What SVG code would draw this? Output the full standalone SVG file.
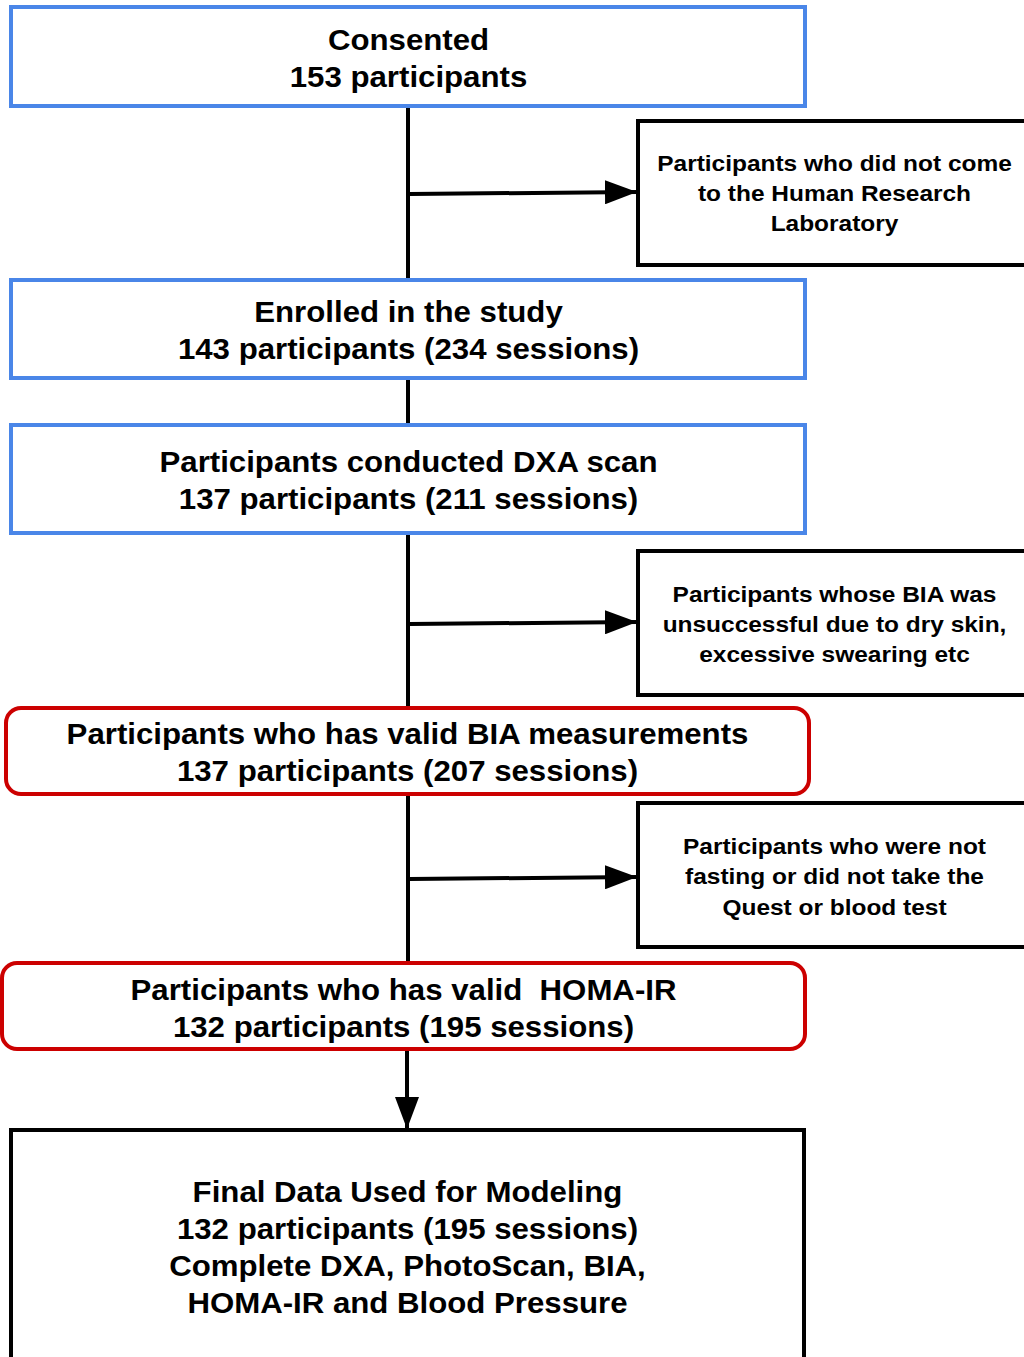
<svg xmlns="http://www.w3.org/2000/svg" width="1024" height="1357" viewBox="0 0 1024 1357">
<defs>
<style>
.blue{fill:#fff;stroke:#4a86e8;stroke-width:4}
.red{fill:#fff;stroke:#cc0000;stroke-width:4}
.blk{fill:#fff;stroke:#000;stroke-width:4}
.t{font-family:"Liberation Sans",Arial,sans-serif;font-weight:bold;font-size:29px;fill:#000;text-anchor:middle}
.s{font-family:"Liberation Sans",Arial,sans-serif;font-weight:bold;font-size:22px;fill:#000;text-anchor:middle}
.ln{stroke:#000;stroke-width:4;fill:none}
</style>
<marker id="ah" markerWidth="8" markerHeight="6" refX="8" refY="3" orient="auto" markerUnits="strokeWidth">
<path d="M0,0 L8,3 L0,6 Z" fill="#000"/>
</marker>
</defs>
<g id="connectors">
<line class="ln" x1="408" y1="106" x2="408" y2="280"/>
<line class="ln" x1="408" y1="378" x2="408" y2="425"/>
<line class="ln" x1="408" y1="533" x2="408" y2="708"/>
<line class="ln" x1="408" y1="794" x2="408" y2="963"/>
<line class="ln" x1="410" y1="194" x2="637" y2="192" marker-end="url(#ah)"/>
<line class="ln" x1="410" y1="624" x2="637" y2="622" marker-end="url(#ah)"/>
<line class="ln" x1="410" y1="879" x2="637" y2="877" marker-end="url(#ah)"/>
<line class="ln" x1="407" y1="1049" x2="407" y2="1129" marker-end="url(#ah)"/>
</g>
<g id="n1"><rect class="blue" x="11" y="7" width="794" height="99"/>
<g transform="translate(408.5 0) scale(1.076 1)"><text class="t" x="0" y="50">Consented</text><text class="t" x="0" y="87">153 participants</text></g></g>
<g id="s1"><rect class="blk" x="638" y="121" width="400" height="144"/>
<g transform="translate(834.5 0) scale(1.112 1)"><text class="s" x="0" y="171">Participants who did not come</text><text class="s" x="0" y="201">to the Human Research</text><text class="s" x="0" y="231">Laboratory</text></g></g>
<g id="n2"><rect class="blue" x="11" y="280" width="794" height="98"/>
<g transform="translate(408.5 0) scale(1.076 1)"><text class="t" x="0" y="322">Enrolled in the study</text><text class="t" x="0" y="359">143 participants (234 sessions)</text></g></g>
<g id="n3"><rect class="blue" x="11" y="425" width="794" height="108"/>
<g transform="translate(408.5 0) scale(1.076 1)"><text class="t" x="0" y="472">Participants conducted DXA scan</text><text class="t" x="0" y="509">137 participants (211 sessions)</text></g></g>
<g id="s2"><rect class="blk" x="638" y="551" width="400" height="144"/>
<g transform="translate(834.5 0) scale(1.112 1)"><text class="s" x="0" y="602">Participants whose BIA was</text><text class="s" x="0" y="632">unsuccessful due to dry skin,</text><text class="s" x="0" y="662">excessive swearing etc</text></g></g>
<g id="n4"><rect class="red" x="6" y="708" width="803" height="86" rx="15"/>
<g transform="translate(407.5 0) scale(1.076 1)"><text class="t" x="0" y="744">Participants who has valid BIA measurements</text><text class="t" x="0" y="781">137 participants (207 sessions)</text></g></g>
<g id="s3"><rect class="blk" x="638" y="803" width="400" height="144"/>
<g transform="translate(834.5 0) scale(1.112 1)"><text class="s" x="0" y="854">Participants who were not</text><text class="s" x="0" y="884">fasting or did not take the</text><text class="s" x="0" y="915">Quest or blood test</text></g></g>
<g id="n5"><rect class="red" x="2" y="963" width="803" height="86" rx="15"/>
<g transform="translate(403.5 0) scale(1.076 1)"><text class="t" x="0" y="1000" xml:space="preserve">Participants who has valid  HOMA-IR</text><text class="t" x="0" y="1037">132 participants (195 sessions)</text></g></g>
<g id="n6"><rect class="blk" x="11" y="1130" width="793" height="240"/>
<g transform="translate(407.5 0) scale(1.076 1)"><text class="t" x="0" y="1202">Final Data Used for Modeling</text><text class="t" x="0" y="1239">132 participants (195 sessions)</text><text class="t" x="0" y="1276">Complete DXA, PhotoScan, BIA,</text><text class="t" x="0" y="1313">HOMA-IR and Blood Pressure</text></g></g>
</svg>
